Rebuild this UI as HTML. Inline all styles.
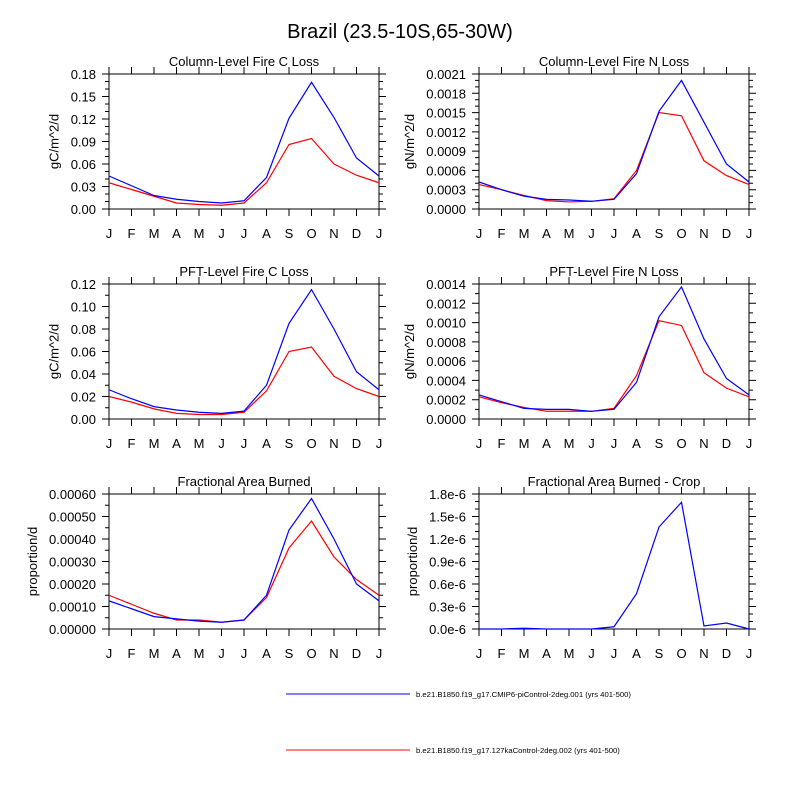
<!DOCTYPE html>
<html><head><meta charset="utf-8"><style>
body{margin:0;background:#fff;}
svg{display:block;font-family:"Liberation Sans",sans-serif;}
</style></head><body>
<svg id="c" width="800" height="800" viewBox="0 0 800 800">
<text x="400" y="38" font-size="20" text-anchor="middle">Brazil (23.5-10S,65-30W)</text>
<g id="panels"></g>
<g>
<line x1="286" y1="694" x2="410" y2="694" stroke="#0000ff" stroke-width="1"/>
<text x="416" y="697" font-size="7.7">b.e21.B1850.f19_g17.CMIP6-piControl-2deg.001 (yrs 401-500)</text>
<line x1="286" y1="750" x2="410" y2="750" stroke="#ff0000" stroke-width="1"/>
<text x="416" y="753" font-size="7.7">b.e21.B1850.f19_g17.127kaControl-2deg.002 (yrs 401-500)</text>
</g>
</svg>
<script>
const months = ["J","F","M","A","M","J","J","A","S","O","N","D","J"];
const titles = ["Column-Level Fire C Loss","Column-Level Fire N Loss","PFT-Level Fire C Loss","PFT-Level Fire N Loss","Fractional Area Burned","Fractional Area Burned - Crop"];
const units = ["gC/m^2/d","gN/m^2/d","gC/m^2/d","gN/m^2/d","proportion/d","proportion/d"];
const yTicks0 = ["0.00","0.03","0.06","0.09","0.12","0.15","0.18"];
const yTicks1 = ["0.0000","0.0003","0.0006","0.0009","0.0012","0.0015","0.0018","0.0021"];
const yTicks2 = ["0.00","0.02","0.04","0.06","0.08","0.10","0.12"];
const yTicks3 = ["0.0000","0.0002","0.0004","0.0006","0.0008","0.0010","0.0012","0.0014"];
const yTicks4 = ["0.00000","0.00010","0.00020","0.00030","0.00040","0.00050","0.00060"];
const yTicks5 = ["0.0e-6","0.3e-6","0.6e-6","0.9e-6","1.2e-6","1.5e-6","1.8e-6"];
const yMax = [0.18,0.0021,0.12,0.0014,0.0006,1.8];
const yMinorDiv = [3,3,2,2,2,3];
const blue0 = [.044,.031,.018,.013,.010,.008,.011,.042,.121,.169,.122,.068,.044];
const red0  = [.035,.026,.017,.008,.006,.005,.008,.035,.086,.094,.060,.045,.035];
const blue1 = [.00042,.00030,.00020,.00015,.00014,.00012,.00015,.00055,.00152,.00200,.00135,.00070,.00042];
const red1  = [.00038,.00030,.00021,.00013,.00011,.00012,.00016,.00060,.00150,.00145,.00075,.00052,.00038];
const blue2 = [.026,.018,.011,.008,.006,.005,.007,.030,.085,.115,.080,.042,.026];
const red2  = [.020,.015,.009,.005,.004,.004,.006,.025,.060,.064,.038,.027,.020];
const blue3 = [.00025,.00018,.00011,.00010,.00010,.00008,.00010,.00038,.00106,.00137,.00083,.00042,.00025];
const red3  = [.00023,.00017,.00012,.00008,.00008,.00008,.00011,.00045,.00102,.00097,.00048,.00032,.00023];
const blue4 = [.000125,.00009,.000055,.000045,.000035,.00003,.00004,.00015,.00044,.00058,.00040,.00020,.000125];
const red4  = [.00015,.00011,.00007,.00004,.00004,.00003,.00004,.00014,.00036,.00048,.00032,.00022,.00015];
const blue5 = [0,0,0.01,0,0,0,0.03,0.47,1.36,1.69,0.04,0.08,0];
const red5  = null;

const NS="http://www.w3.org/2000/svg";
const root=document.getElementById('panels');
const allTicks=[yTicks0,yTicks1,yTicks2,yTicks3,yTicks4,yTicks5];
const blues=[blue0,blue1,blue2,blue3,blue4,blue5];
const reds=[red0,red1,red2,red3,red4,red5];
const colX=[109,479], rowY=[74,284,494], PW=270, PH=135;
function mk(t,a,p){const e=document.createElementNS(NS,t);for(const k in a)e.setAttribute(k,a[k]);p.appendChild(e);return e;}
for(let i=0;i<6;i++){
  const L=colX[i%2], T=rowY[Math.floor(i/2)], R=L+PW, B=T+PH;
  const xs=m=>L+m*PW/12;
  const ys=v=>B-v/yMax[i]*PH;
  const g=mk('g',{},root);
  
  
  const t=mk('text',{x:(L+R)/2,y:T-8,'font-size':13,'text-anchor':'middle'},g);t.textContent=titles[i];
  
  
  let d='';
  for(let m=0;m<13;m++){const x=xs(m);d+=`M${x} ${B}v7M${x} ${T}v-7`;
    const tx=mk('text',{x:x,y:B+29,'font-size':13,'text-anchor':'middle'},g);tx.textContent=months[m];
    
    }
  const tk=allTicks[i], n=tk.length-1, div=yMinorDiv[i];
  let maxW=0;
  for(let k=0;k<=n;k++){const y=B-k*PH/n;d+=`M${L} ${y}h-7M${R} ${y}h7`;
    const ty=mk('text',{x:L-13,y:y+5,'font-size':13,'text-anchor':'end'},g);ty.textContent=tk[k];
    
    
    maxW=Math.max(maxW,ty.getComputedTextLength());
    if(k<n)for(let s=1;s<div;s++){const yy=y-s*PH/n/div;d+=`M${L} ${yy}h-4M${R} ${yy}h4`;}}
  const yl=mk('text',{x:0,y:0,'font-size':13,'text-anchor':'middle',transform:`translate(${L-13-maxW-12},${(T+B)/2}) rotate(-90)`},g);yl.textContent=units[i];
  
  
  const ax=mk('path',{d:d,stroke:'#000','stroke-width':1,fill:'none'},g);
  
  
  const fr=mk('rect',{x:L,y:T,width:PW,height:PH,fill:'none',stroke:'#000','stroke-width':1},g);
  
  
  [[reds[i],'#ff0000','red-series'],[blues[i],'#0000ff','blue-series']].forEach(([arr,c,nm])=>{
    if(!arr)return;
    const pl=mk('polyline',{points:arr.map((v,m)=>xs(m)+','+ys(v)).join(' '),fill:'none',stroke:c,'stroke-width':1.2},g);
    
    
  });
}
</script>
</body></html>
